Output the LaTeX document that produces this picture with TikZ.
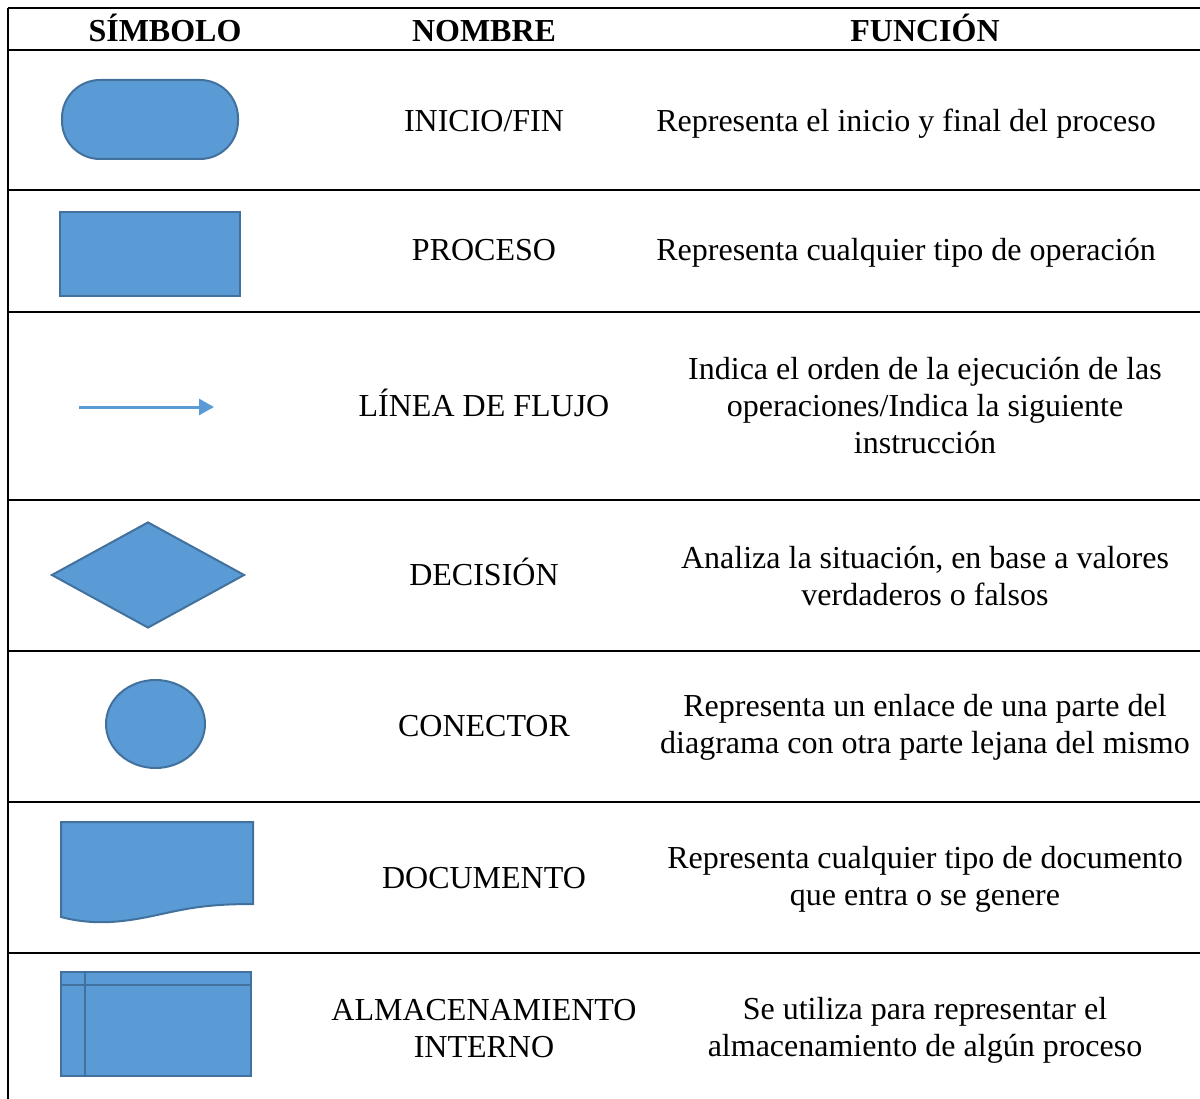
\documentclass[tikz,border=0pt]{standalone}
\usepackage{fontspec}
\setmainfont{Liberation Serif}
\usetikzlibrary{arrows.meta}
\usetikzlibrary{shapes.geometric}
\definecolor{symblue}{HTML}{5B9BD5}
\definecolor{symedge}{HTML}{41719C}
\tikzset{
  symshape/.style={fill=symblue,draw=symedge,line width=2pt,inner sep=0pt},
  rowline/.style={line width=2.5pt,black},
  celltext/.style={align=center,font=\fontsize{32}{37}\selectfont,inner sep=0pt},
  onetext/.style={celltext,text height=21pt,text depth=0pt},
  headtext/.style={onetext,font=\fontsize{32}{37}\selectfont\bfseries},
}
\begin{document}
\begin{tikzpicture}[x=1pt,y=-1pt]%
        \useasboundingbox (0,0) rectangle (1200,1099);%
        % table lines
        \draw[rowline] (8,8) -- (8,1099);%
        \foreach \ypos in {8,50,190,312,500,651,802,953}
            \draw[rowline] (8,\ypos) -- (1200,\ypos);%
        % header
        \node[headtext] (hsym) at (165,31) {SÍMBOLO};%
        \node[headtext] (hname) at (484,31) {NOMBRE};%
        \node[headtext] (hfunc) at (925,31) {FUNCIÓN};%
        % symbols
        \node[symshape,rectangle,rounded corners=38pt,minimum width=176pt,minimum height=79pt] (terminal) at (150,119.5) {};%
        \node[symshape,rectangle,minimum width=180pt,minimum height=84pt] (process) at (150,254) {};%
        \coordinate (flowstart) at (79,407);%
        \coordinate (flowend) at (214,407);%
        \draw[symblue,line width=3pt,-{Triangle[length=15pt,width=16pt]}] (flowstart) -- (flowend);%
        \node[symshape,diamond,minimum width=193pt,minimum height=106pt] (decision) at (148,575) {};%
        \node[symshape,ellipse,minimum width=99pt,minimum height=88pt] (connector) at (155.5,724) {};%
        \draw[symshape] (61,822) -- (253,822) -- (253,904)
            .. controls (205,904) and (185,909) .. (157,915)
            .. controls (125,922) and (95,926) .. (61,917) -- cycle;%
        \draw[symshape] (61,972) rectangle (251,1076);%
        \draw[symedge,line width=2pt] (61,985) -- (251,985);%
        \draw[symedge,line width=2pt] (85,972) -- (85,1076);%
        % names
        \node[onetext] (nterminal) at (484,121.5) {INICIO/FIN};%
        \node[onetext] (nprocess) at (484,250.5) {PROCESO};%
        \node[onetext] (nflow) at (484,406) {LÍNEA DE FLUJO};%
        \node[onetext] (ndecision) at (484,575) {DECISIÓN};%
        \node[onetext] (nconnector) at (484,726) {CONECTOR};%
        \node[onetext] (ndocument) at (484,878) {DOCUMENTO};%
        \node[celltext] (nstorage) at (484,1029) {ALMACENAMIENTO\\INTERNO};%
        % functions
        \node[onetext] (fterminal) at (906,121.5) {Representa el inicio y final del proceso};%
        \node[onetext] (fprocess) at (906,250.5) {Representa cualquier tipo de operación};%
        \node[celltext] (fflow) at (925,406) {Indica el orden de la ejecución de las\\operaciones/Indica la siguiente\\instrucción};%
        \node[celltext] (fdecision) at (925,576) {Analiza la situación, en base a valores\\verdaderos o falsos};%
        \node[celltext] (fconnector) at (925,727) {Representa un enlace de una parte del\\diagrama con otra parte lejana del mismo};%
        \node[celltext] (fdocument) at (925,879) {Representa cualquier tipo de documento\\que entra o se genere};%
        \node[celltext] (fstorage) at (925,1030) {Se utiliza para representar el\\almacenamiento de algún proceso};%
    \end{tikzpicture}
\end{document}
